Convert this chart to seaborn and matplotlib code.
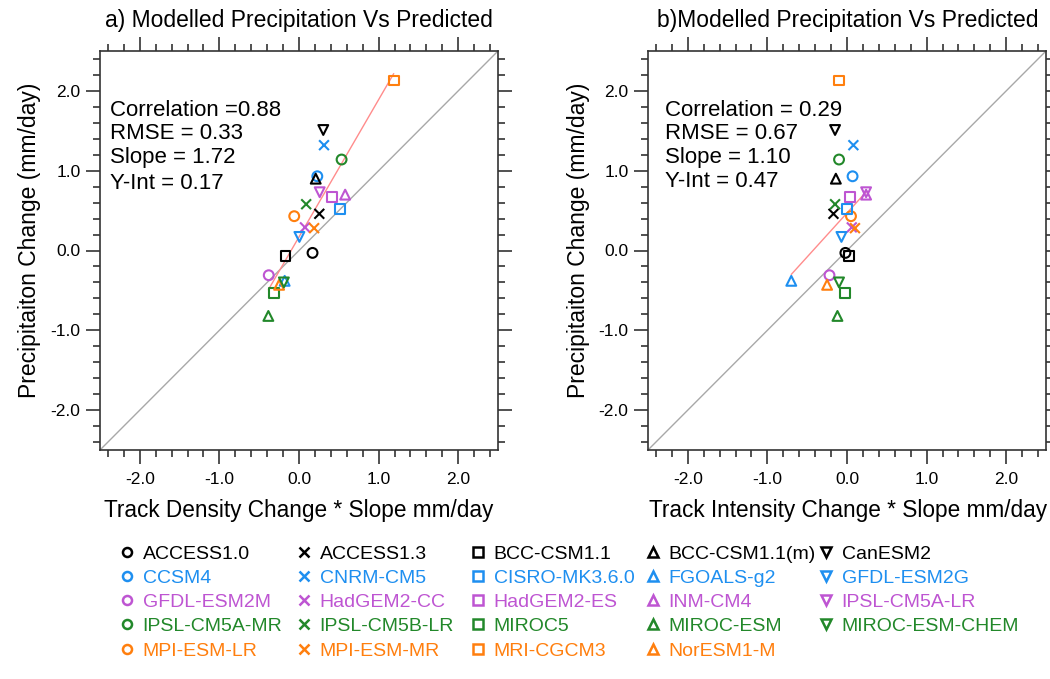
import numpy as np
import pandas as pd
import matplotlib
matplotlib.use("Agg")
import matplotlib.pyplot as plt
from matplotlib.markers import MarkerStyle
from matplotlib.lines import Line2D
from matplotlib.ticker import MultipleLocator
import seaborn as sns

# ---------------- data ----------------
models = ["ACCESS1.0", "CCSM4", "GFDL-ESM2M", "IPSL-CM5A-MR", "MPI-ESM-LR",
          "ACCESS1.3", "CNRM-CM5", "HadGEM2-CC", "IPSL-CM5B-LR", "MPI-ESM-MR",
          "BCC-CSM1.1", "CISRO-MK3.6.0", "HadGEM2-ES", "MIROC5", "MRI-CGCM3",
          "BCC-CSM1.1(m)", "FGOALS-g2", "INM-CM4", "MIROC-ESM", "NorESM1-M",
          "CanESM2", "GFDL-ESM2G", "IPSL-CM5A-LR", "MIROC-ESM-CHEM"]
marker_kind = ["o"] * 5 + ["x"] * 5 + ["s"] * 5 + ["^"] * 5 + ["v"] * 4
color_group = ["black", "blue", "purple", "green", "orange"] * 4 + ["black", "blue", "purple", "green"]

# Modelled precipitation change (mm/day)
precip = [-0.03, 0.93, -0.31, 1.14, 0.43,
          0.46, 1.32, 0.29, 0.58, 0.28,
          -0.07, 0.52, 0.67, -0.53, 2.13,
          0.90, -0.38, 0.70, -0.82, -0.43,
          1.51, 0.17, 0.73, -0.40]
# Predicted: track density change * slope (mm/day)
pred_density = [0.17, 0.23, -0.38, 0.535, -0.06,
                0.255, 0.314, 0.075, 0.09, 0.19,
                -0.17, 0.51, 0.41, -0.31, 1.19,
                0.21, -0.18, 0.58, -0.385, -0.25,
                0.305, 0.005, 0.26, -0.19]
# Predicted: track intensity change * slope (mm/day)
pred_intensity = [-0.02, 0.07, -0.22, -0.10, 0.05,
                  -0.17, 0.08, 0.06, -0.15, 0.10,
                  0.03, 0.00, 0.04, -0.03, -0.10,
                  -0.14, -0.70, 0.24, -0.12, -0.25,
                  -0.15, -0.07, 0.24, -0.10]

stat_corr = [0.88, 0.29]
stat_rmse = [0.33, 0.67]
stat_slope = [1.72, 1.10]
stat_yint = [0.17, 0.47]

panel_titles = ["a) Modelled Precipitation Vs Predicted", "b)Modelled Precipitation Vs Predicted"]
x_labels = ["Track Density Change * Slope mm/day", "Track Intensity Change * Slope mm/day"]
y_label = "Precipitaiton Change (mm/day)"
tick_values = [-2.0, -1.0, 0.0, 1.0, 2.0]

palette_groups = {"black": "#000000", "blue": "#1E8FF0", "purple": "#BE55D2",
                  "green": "#22882A", "orange": "#FF7F0E"}

# ---------------- style ----------------
sns.set_style("ticks")
plt.rcParams["font.family"] = ["Liberation Sans", "DejaVu Sans"]
plt.rcParams["axes.edgecolor"] = "#333333"
plt.rcParams["axes.linewidth"] = 1.2
plt.rcParams["text.color"] = "black"
plt.rcParams["axes.labelcolor"] = "black"
plt.rcParams["xtick.labelcolor"] = "black"
plt.rcParams["ytick.labelcolor"] = "black"

df = pd.DataFrame({"model": models, "marker": marker_kind,
                   "grp": color_group, "precip": precip,
                   "density": pred_density, "intensity": pred_intensity})
palette = {m: palette_groups[g] for m, g in zip(models, color_group)}
marker_map = {m: (MarkerStyle(k, fillstyle="none") if k != "x" else MarkerStyle("x"))
              for m, k in zip(models, marker_kind)}

W, H = 1050, 679
fig = plt.figure(figsize=(W / 100, H / 100), dpi=100)

ax_rects = [[100 / W, 1 - 450 / H, 398 / W, 399 / H],
            [648 / W, 1 - 450 / H, 398 / W, 399 / H]]
xcols = ["density", "intensity"]
title_x = [299, 848]
ylabel_x = [30, 578]
stats_x = [0.025, 0.043]
stats_y = [[0.852, 0.792, 0.732, 0.669], [0.852, 0.792, 0.734, 0.674]]
corr_fmt = ["Correlation ={:.2f}", "Correlation = {:.2f}"]

for i in range(2):
    ax = fig.add_axes(ax_rects[i])
    # 1:1 reference line
    ax.axline((0, 0), slope=1, color="#a8a8a8", lw=1.0, zorder=1)
    # regression line across the data range
    xs = np.array([df[xcols[i]].min(), df[xcols[i]].max()])
    sns.lineplot(x=xs, y=stat_yint[i] + stat_slope[i] * xs, ax=ax,
                 color="#ff8c8c", lw=1.0, zorder=2)
    sns.scatterplot(data=df, x=xcols[i], y="precip", hue="model", style="model",
                    palette=palette, markers=marker_map, s=50, linewidth=1.5,
                    legend=False, ax=ax, zorder=3)
    coll = ax.collections[-1]
    fc = coll.get_facecolors()
    coll.set_edgecolors(fc)
    coll.set_facecolors("none")
    coll.set_linewidths(1.5)

    ax.set_xlim(-2.5, 2.5)
    ax.set_ylim(-2.5, 2.5)
    ax.set_xticks(tick_values)
    ax.set_yticks(tick_values)
    ax.set_xticklabels([f"{v:.1f}" for v in tick_values])
    ax.set_yticklabels([f"{v:.1f}" for v in tick_values])
    ax.xaxis.set_minor_locator(MultipleLocator(0.2))
    ax.yaxis.set_minor_locator(MultipleLocator(0.2))
    ax.tick_params(which="both", direction="out", top=True, right=True,
                   color="#333333", width=1.2)
    ax.tick_params(which="major", length=10, labelsize=12.5, pad=6,
                   labelcolor="black")
    ax.tick_params(which="minor", length=5)
    ax.tick_params(axis="y", which="major", pad=4)
    ax.set_xlabel("")
    ax.set_ylabel("")
    for sp in ax.spines.values():
        sp.set_visible(True)

    fig.text(title_x[i] / W, 1 - 20 / H, panel_titles[i], ha="center", va="center",
             fontsize=16.5, color="black")
    fig.text(title_x[i] / W, 1 - 510 / H, x_labels[i], ha="center", va="center",
             fontsize=16.3, color="black")
    fig.text(ylabel_x[i] / W, 1 - 240 / H, y_label, ha="center", va="center",
             rotation=90, fontsize=16.5, color="black")

    lines = [corr_fmt[i].format(stat_corr[i]),
             f"RMSE = {stat_rmse[i]:.2f}",
             f"Slope = {stat_slope[i]:.2f}",
             f"Y-Int = {stat_yint[i]:.2f}"]
    for t, yy in zip(lines, stats_y[i]):
        ax.text(stats_x[i], yy, t, transform=ax.transAxes, ha="left", va="center",
                fontsize=16, color="black")

# ---------------- legend (5 columns) ----------------
col_left_px = [119, 296, 470, 645, 818]
for c in range(5):
    idx = [j for j in range(len(models)) if j // 5 == c]
    handles = []
    for j in idx:
        mk = marker_kind[j]
        col = palette[models[j]]
        handles.append(Line2D([], [], linestyle="none", marker=mk, markersize=6.5,
                              markeredgewidth=1.8, markeredgecolor=col,
                              markerfacecolor="none", color=col))
    leg = fig.legend(handles, [models[j] for j in idx], loc="upper left",
                     bbox_to_anchor=(col_left_px[c] / W, 1 - 545 / H),
                     frameon=False, fontsize=14, handlelength=0.8,
                     handletextpad=0.42, labelspacing=0.34, borderpad=0,
                     borderaxespad=0)
    for txt, j in zip(leg.get_texts(), idx):
        txt.set_color(palette[models[j]])

fig.savefig("out.png", dpi=100)
